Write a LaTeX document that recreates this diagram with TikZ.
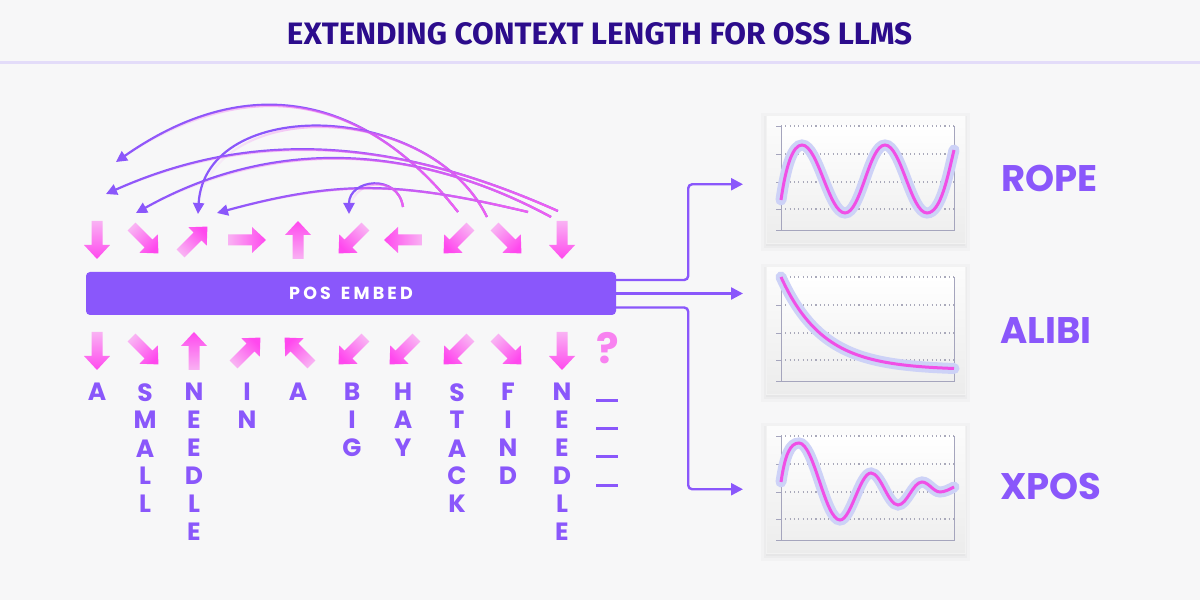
\documentclass[tikz,border=0pt]{standalone}
\usepackage{fontspec}
\usetikzlibrary{arrows.meta,calc,fadings}
\newfontfamily\pop{Poppins}
\newfontfamily\fira{Fira Sans}
\definecolor{bg}{HTML}{F7F7F8}
\definecolor{titlec}{HTML}{2C0C8C}
\definecolor{purp}{HTML}{8A57FB}
\definecolor{pinkA}{HTML}{F9B2F3}
\definecolor{pinkB}{HTML}{FF48EE}
\definecolor{qpink}{HTML}{F882F0}
\definecolor{magc}{HTML}{F060F0}
\definecolor{halo}{HTML}{CDD2F7}
\definecolor{linec}{HTML}{F04FE6}
\definecolor{gridc}{HTML}{A9A9BA}
\definecolor{axisc}{HTML}{A5A5BD}
\definecolor{rulec}{HTML}{E3DCF9}
\definecolor{boxtop}{HTML}{FCFCFC}
\definecolor{boxbot}{HTML}{ECECEC}
\definecolor{innerbot}{HTML}{EFEFEF}
\tikzfading[name=fadeleft, left color=transparent!100, right color=transparent!0]
\newcommand\blockarr[3]{%
  \pgfmathsetmacro\shang{#3-90}%
  \shade[top color=pinkB, bottom color=pinkA, shading angle=\shang]
  ($(#1,#2)+(#3:-19)+(#3+90:-5.5)$) -- ($(#1,#2)+(#3:5)+(#3+90:-5.5)$) --
  ($(#1,#2)+(#3:5)+(#3+90:-13)$) -- ($(#1,#2)+(#3:19)$) --
  ($(#1,#2)+(#3:5)+(#3+90:13)$) -- ($(#1,#2)+(#3:5)+(#3+90:5.5)$) --
  ($(#1,#2)+(#3:-19)+(#3+90:5.5)$) -- cycle;}
\newcommand\gradcurve[4]{%
  \draw[curv] (#1) .. controls (#2) and (#3) .. (#4);
  \draw[curvfade] (#1) .. controls (#2) and (#3) .. (#4);}
\newcommand\chartframe{%
  \shade[top color=white, bottom color=innerbot] (15,-11) rectangle (188,-115);
  \foreach \g in {-11,-39,-67,-94} {\draw[gridl] (15,\g) -- (188,\g); \draw[axisl] (10,\g) -- (15,\g);}
  \draw[axisl] (15,-11) -- (15,-115);
  \draw[axisl] (10,-115) -- (188,-115) -- (188,-11);}
\begin{document}
\begin{tikzpicture}[x=1pt,y=1pt,
  conn/.style={draw=purp, line width=2.4pt, rounded corners=4pt, -{Triangle[length=12pt,width=12pt]}},
  curv/.style={draw=purp, line width=2.2pt, -{Triangle[length=11pt,width=11pt]}},
  curvfade/.style={draw=magc, line width=2.2pt, path fading=fadeleft},
  col/.style={anchor=north, inner sep=0pt, align=center, text=purp, font=\pop\bfseries\fontsize{25pt}{28pt}\selectfont},
  blank/.style={fill=purp, inner sep=0pt, minimum width=22pt, minimum height=3pt},
  lbl/.style={anchor=west, inner sep=0pt, text=purp, font=\pop\bfseries\fontsize{37pt}{37pt}\selectfont},
  chartbox/.style={anchor=north west, minimum width=199pt, minimum height=128pt, inner sep=0pt,
    top color=boxtop, bottom color=boxbot, draw=black!5, line width=0.5pt,
    preaction={fill=black, fill opacity=0.025, draw=black, draw opacity=0.02, line width=10pt, transform canvas={yshift=-3pt}},
    preaction={draw=black, draw opacity=0.025, line width=4pt, transform canvas={yshift=-3pt}}},
  gridl/.style={draw=gridc, line width=1.1pt, dash pattern=on 1.1pt off 3.2pt},
  axisl/.style={draw=axisc, line width=0.9pt},
  haloline/.style={draw=linec, line width=3pt, preaction={draw=halo, line width=11pt, line cap=round}}
]
\fill[bg] (0,0) rectangle (1200,600);
\useasboundingbox (0,0) rectangle (1200,600);

% title
\node[inner sep=0pt, text=titlec, font=\fira\bfseries] (title) at (599.5,566.5)
  {\resizebox{625pt}{22pt}{EXTENDING CONTEXT LENGTH FOR OSS LLMS}};
\coordinate (ruleL) at (0,537);
\coordinate (ruleR) at (1200,537);
\draw[rulec, line width=3pt] (ruleL) -- (ruleR);

% embedding bar
\node[fill=purp, rounded corners=4pt, minimum width=530pt, minimum height=43pt, inner sep=0pt,
  text=white, font=\pop\bfseries\fontsize{17.5pt}{17.5pt}\selectfont\addfontfeature{LetterSpace=18}] (bar) at (351,306.5) {POS\hspace{10pt}EMBED};

% top arrows
\foreach \x/\a in {97/270,145/315,194/45,247/0,298/90,352/225,403/180,457/225,508/315,562/270}
  {\blockarr{\x}{360}{\a}}
% bottom arrows
\foreach \x/\a in {97/270,145/315,194/90,247/45,298/135,352/225,403/225,457/225,508/315,562/270}
  {\blockarr{\x}{249}{\a}}
\node[inner sep=0pt, text=qpink, font=\pop\bfseries\fontsize{42pt}{42pt}\selectfont] (q) at (607.5,252) {?};

% attention curves
\coordinate (a0) at (458,388); \coordinate (a1) at (372,498); \coordinate (a2) at (255,535); \coordinate (a3) at (116,438);
\coordinate (b0) at (487,383); \coordinate (b1) at (430,500); \coordinate (b2) at (205,505); \coordinate (b3) at (198,386);
\coordinate (c0) at (558,389); \coordinate (c1) at (403,458); \coordinate (c2) at (261,475); \coordinate (c3) at (106,406);
\coordinate (d0) at (551,383); \coordinate (d1) at (414,457); \coordinate (d2) at (272,463); \coordinate (d3) at (136,387);
\coordinate (e0) at (528,388); \coordinate (e1) at (401,418); \coordinate (e2) at (342,421); \coordinate (e3) at (217,387);
\coordinate (f0) at (403,393); \coordinate (f1) at (398,427); \coordinate (f2) at (349,421); \coordinate (f3) at (349,386);
\gradcurve{a0}{a1}{a2}{a3}
\gradcurve{b0}{b1}{b2}{b3}
\gradcurve{c0}{c1}{c2}{c3}
\gradcurve{d0}{d1}{d2}{d3}
\gradcurve{e0}{e1}{e2}{e3}
\gradcurve{f0}{f1}{f2}{f3}

% word columns
\node[col] (w1) at (97,217) {A};
\node[col] (w2) at (145,217) {S\\M\\A\\L\\L};
\node[col] (w3) at (194,217) {N\\E\\E\\D\\L\\E};
\node[col] (w4) at (247,217) {I\\N};
\node[col] (w5) at (298,217) {A};
\node[col] (w6) at (352,217) {B\\I\\G};
\node[col] (w7) at (403,217) {H\\A\\Y};
\node[col] (w8) at (457,217) {S\\T\\A\\C\\K};
\node[col] (w9) at (508,217) {F\\I\\N\\D};
\node[col] (w10) at (562,217) {N\\E\\E\\D\\L\\E};
\node[blank] (u1) at (607,199.3) {};
\node[blank] (u2) at (607,171.3) {};
\node[blank] (u3) at (607,143) {};
\node[blank] (u4) at (607,114.7) {};

% charts
\node[chartbox] (rope) at (766,485) {};
\node[chartbox] (alibi) at (766,334) {};
\node[chartbox] (xpos) at (766,175) {};

\begin{scope}[shift={(rope.north west)}]
  \chartframe
  \draw[haloline] (15,-85) .. controls (20,-50) and (27,-30) .. (36,-30)
    .. controls (52,-30) and (63,-98) .. (79,-98)
    .. controls (95,-98) and (103,-30) .. (119,-30)
    .. controls (135,-30) and (145,-98) .. (161,-98)
    .. controls (175,-98) and (182,-60) .. (188,-35);
\end{scope}
\begin{scope}[shift={(alibi.north west)}]
  \chartframe
  \draw[haloline] plot[domain=15:188, samples=80, smooth] (\x, {-104+93*exp(-(\x-15)/42)});
\end{scope}
\begin{scope}[shift={(xpos.north west)}]
  \chartframe
  \draw[haloline] (15,-57) .. controls (19,-30) and (24,-18) .. (33,-18)
    .. controls (48,-18) and (59,-95) .. (74,-95)
    .. controls (85,-95) and (94,-48) .. (105,-48)
    .. controls (115,-48) and (122,-80) .. (132,-80)
    .. controls (141,-80) and (147,-57) .. (156,-57)
    .. controls (162.5,-57) and (167.5,-67) .. (174,-67)
    .. controls (179,-67) and (184,-64) .. (188,-62);
\end{scope}

% connectors
\draw[conn] ([yshift=13.5pt]bar.east) -- ++(72,0) |- ([xshift=-23pt,yshift=-5pt]rope.west);
\draw[conn] (bar.east) -- ([xshift=-23pt]bar.east -| alibi.west);
\draw[conn] ([yshift=-14pt]bar.east) -- ++(72,0) |- ([xshift=-23pt]xpos.west);

% labels
\node[lbl] (ropel) at (1001,422) {ROPE};
\node[lbl] (alibil) at (1000,269) {ALIBI};
\node[lbl] (xposl) at (1000,113.5) {XPOS};
\end{tikzpicture}
\end{document}
